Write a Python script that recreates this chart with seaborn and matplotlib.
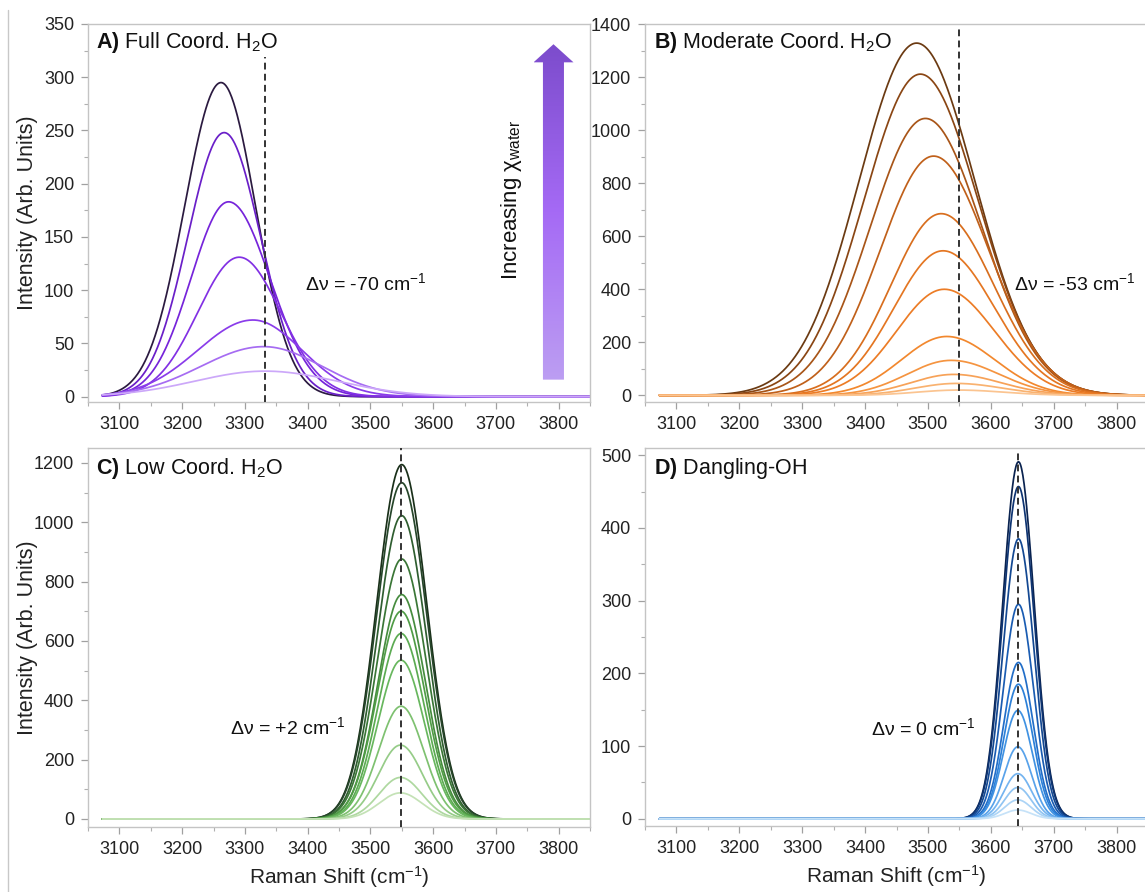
import numpy as np
import pandas as pd
import matplotlib
matplotlib.use("Agg")
import matplotlib.pyplot as plt
import seaborn as sns
from matplotlib.patches import Polygon
from matplotlib.lines import Line2D
from matplotlib.ticker import MultipleLocator
from matplotlib.colors import LinearSegmentedColormap

# ---------------- data (peak parameters) ----------------
shift_grid = np.arange(3073, 3851, 1.0)   # Raman shift sampling (cm-1)

# A) Full coordinated water (largest -> smallest)
heights_A = [295, 248, 183, 131, 72, 47, 24]
centers_A = [3262, 3267, 3274, 3291, 3313, 3330, 3332]
sigmaL_A = [58, 58, 60, 66, 88, 100, 112]
sigmaR_A = [55, 58, 66, 66, 78, 93, 115]
dash_A = 3332

# B) Moderate coordinated water
heights_B = [1328, 1211, 1044, 902, 685, 545, 400, 222, 132, 79, 45, 20]
centers_B = [3482, 3488, 3496, 3509, 3521, 3524, 3526, 3530, 3537, 3541, 3545, 3548]
sigmaL_B = [92, 90, 88, 85, 80, 78, 76, 72, 70, 68, 66, 65]
sigmaR_B = [93, 92, 90, 88, 84, 82, 80, 76, 76, 75, 74, 72]
dash_B = 3550

# C) Low coordinated water
heights_C = [1194, 1133, 1022, 876, 756, 700, 625, 535, 380, 249, 140, 88]
centers_C = [3550, 3550, 3550, 3550, 3550, 3549, 3549, 3549, 3549, 3548, 3548, 3548]
sigma_C = [40, 40, 39, 39, 38, 38, 37, 37, 36, 35, 34, 34]
dash_C = 3549

# D) Dangling OH
heights_D = [491, 457, 385, 295, 215, 185, 149, 99, 62, 43, 26, 12]
centers_D = [3644, 3644, 3644, 3644, 3644, 3644, 3643, 3643, 3643, 3643, 3643, 3643]
sigma_D = [25, 25, 24.5, 24, 23.5, 23, 23, 22, 22, 21, 21, 21]
dash_D = 3644

xticks = [3100, 3200, 3300, 3400, 3500, 3600, 3700, 3800]

# ---------------- palettes (dark = largest) ----------------
pal_A = ["#2b1a40", "#6a1fc8", "#7624da", "#8230e4", "#8a3cea", "#a66cf2", "#cca8f9"]
pal_B = ["#6b3a12", "#8a4614", "#a85518", "#c0601a", "#d86e1e", "#e47622",
         "#ec7c26", "#f2882e", "#f59440", "#f7a258", "#f9b270", "#fbc490"]
pal_C = ["#1a301a", "#26462a", "#2f5e30", "#3a7636", "#468c3e", "#509c46",
         "#5cab52", "#68b75e", "#7ec170", "#96cc88", "#aed8a0", "#c4e2b6"]
pal_D = ["#0a2350", "#0e3472", "#134892", "#1a5cb2", "#226ec8", "#2c80d8",
         "#4092e2", "#58a2ea", "#74b4f0", "#90c4f2", "#acd4f6", "#c6e2f8"]


def split_gauss(x, c, h, sl, sr):
    s = np.where(x < c, sl, sr)
    return h * np.exp(-0.5 * ((x - c) / s) ** 2)


def make_frame(heights, centers, sl, sr):
    rows = []
    for i, (h, c, a, b) in enumerate(zip(heights, centers, sl, sr)):
        y = split_gauss(shift_grid, c, h, a, b)
        rows.append(pd.DataFrame({"shift": shift_grid, "intensity": y, "curve": i}))
    return pd.concat(rows, ignore_index=True)


sns.set_style("white")
plt.rcParams['font.family'] = ['Liberation Sans', 'DejaVu Sans']
plt.rcParams['mathtext.fontset'] = 'custom'
plt.rcParams['mathtext.rm'] = 'Liberation Sans'
plt.rcParams['mathtext.it'] = 'Liberation Sans:italic'
plt.rcParams['mathtext.bf'] = 'Liberation Sans:bold'
plt.rcParams['axes.unicode_minus'] = True

W, H = 1145, 892
fig = plt.figure(figsize=(W / 100, H / 100), dpi=100)


def px_axes(left, right, top, bottom):
    return fig.add_axes([left / W, 1 - bottom / H, (right - left) / W, (bottom - top) / H])


axA = px_axes(88, 590, 24, 402)
axB = px_axes(645, 1148, 24, 402)
axC = px_axes(88, 590, 448, 827)
axD = px_axes(645, 1148, 448, 826)

panels = [
    (axA, make_frame(heights_A, centers_A, sigmaL_A, sigmaR_A), pal_A, (-5, 350), 50, 25, dash_A, 0.913,
     r"$\mathbf{A)}$ Full Coord. H$_2$O", (0.016, 0.950), "Δν = -70 cm$^{-1}$", (0.432, 0.315)),
    (axB, make_frame(heights_B, centers_B, sigmaL_B, sigmaR_B), pal_B, (-25, 1400), 200, 100, dash_B, 0.987,
     r"$\mathbf{B)}$ Moderate Coord. H$_2$O", (0.018, 0.950), "Δν = -53 cm$^{-1}$", (0.733, 0.315)),
    (axC, make_frame(heights_C, centers_C, sigma_C, sigma_C), pal_C, (-27, 1250), 200, 100, dash_C, 1.0,
     r"$\mathbf{C)}$ Low Coord. H$_2$O", (0.015, 0.945), "Δν = +2 cm$^{-1}$", (0.282, 0.264)),
    (axD, make_frame(heights_D, centers_D, sigma_D, sigma_D), pal_D, (-10, 510), 100, 50, dash_D, 0.987,
     r"$\mathbf{D)}$ Dangling-OH", (0.017, 0.947), "Δν = 0 cm$^{-1}$", (0.449, 0.259)),
]

for ax, df, pal, ylim, ymaj, ymin, dash, dtop, title, tpos, ann, apos in panels:
    n = len(pal)
    order = list(range(n))  # dark (large) first, light curves on top
    sns.lineplot(data=df, x="shift", y="intensity", hue="curve", hue_order=order,
                 palette={i: pal[i] for i in range(n)}, estimator=None, sort=False,
                 legend=False, linewidth=1.25, ax=ax)
    ax.axvline(dash, ymin=0, ymax=dtop, color="#333333", lw=1.4, dashes=(3.5, 2.2), zorder=5)
    ax.set_xlim(3050, 3850)
    ax.set_ylim(*ylim)
    ax.xaxis.set_major_locator(plt.FixedLocator(xticks))
    ax.xaxis.set_minor_locator(MultipleLocator(50))
    ax.yaxis.set_major_locator(MultipleLocator(ymaj))
    ax.yaxis.set_minor_locator(MultipleLocator(ymin))
    ax.tick_params(which="major", direction="out", length=5, width=0.9, color="#a0a0a0",
                   labelsize=13, labelcolor="#222222", pad=5, bottom=True, left=True)
    ax.tick_params(which="minor", direction="out", length=3, width=0.8, color="#b0b0b0",
                   bottom=True, left=True)
    for sp in ax.spines.values():
        sp.set_color("#c4c4c4")
        sp.set_linewidth(1.0)
    ax.set_xlabel("")
    ax.set_ylabel("")
    ax.text(tpos[0], tpos[1], title, transform=ax.transAxes, fontsize=15.5,
            ha="left", va="center", color="#111111")
    ax.text(apos[0], apos[1], ann, transform=ax.transAxes, fontsize=14,
            ha="left", va="center", color="#111111")

# axis labels
for ax in (axA, axC):
    ax.set_ylabel("Intensity (Arb. Units)", fontsize=15.5, color="#222222")
    ax.yaxis.set_label_coords((27.7 - 88) / 502, 0.5)
    ax.yaxis.label.set_va("center")
for ax in (axC, axD):
    ax.set_xlabel("Raman Shift (cm$^{-1}$)", fontsize=15, color="#222222")
    ax.xaxis.set_label_coords(0.5, (827 - 877) / 379)
    ax.xaxis.label.set_va("center")

# gradient arrow in panel A
arrow_verts = [(3775, 16), (3808.5, 16), (3808.5, 314), (3823.7, 314),
               (3791.8, 331), (3760, 314), (3775, 314)]
poly = Polygon(arrow_verts, closed=True, facecolor="none", edgecolor="none",
               transform=axA.transData)
axA.add_patch(poly)
arrow_cmap = LinearSegmentedColormap.from_list("arr", ["#bc9ef2", "#a56af5", "#7c4ccc"])
grad = np.linspace(0, 1, 256).reshape(-1, 1)
im = axA.imshow(grad, extent=[3760, 3824, 16, 331], origin="lower", aspect="auto",
                cmap=arrow_cmap, zorder=4)
im.set_clip_path(poly)
axA.set_xlim(3050, 3850)
axA.set_ylim(-5, 350)
axA.text((512 - 88) / 502, 0.534, "Increasing χ$_{\\mathrm{water}}$", transform=axA.transAxes,
         rotation=90, fontsize=16, ha="center", va="center", color="#111111")

# thin figure border line at left
fig.add_artist(Line2D([8 / W, 8 / W], [0, 1 - 10 / H], color="#c8c8c8", lw=1.0,
                      transform=fig.transFigure))

fig.savefig("out.png", dpi=100)
